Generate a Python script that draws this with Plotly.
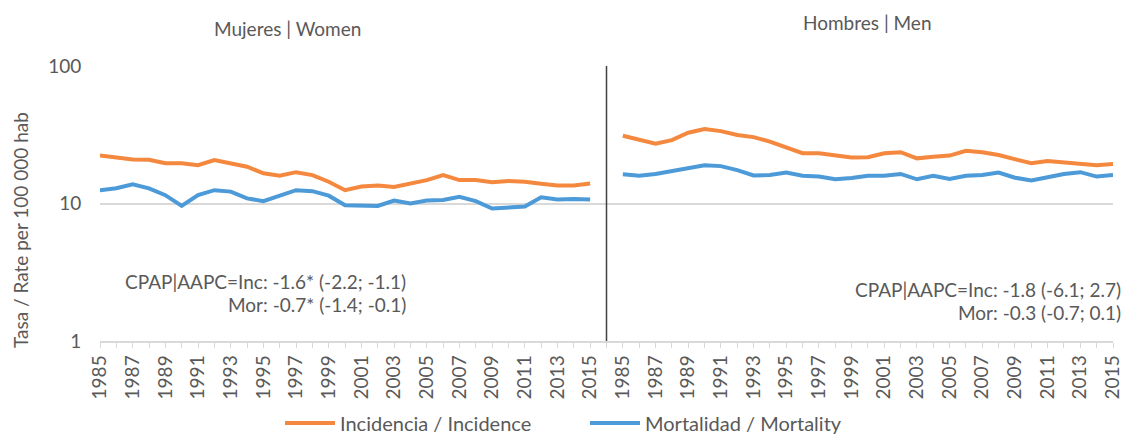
import plotly.graph_objects as go

years = list(range(1985, 2016))
women_inc = [22.3, 21.7, 20.9, 20.8, 19.6, 19.6, 19.0, 20.7, 19.6, 18.5, 16.6, 15.9, 16.9, 16.1, 14.4, 12.5,
             13.3, 13.5, 13.2, 13.9, 14.8, 16.1, 14.8, 14.8, 14.3, 14.6, 14.4, 13.9, 13.5, 13.5, 14.0]
women_mor = [12.5, 12.9, 13.8, 12.9, 11.5, 9.6, 11.5, 12.5, 12.2, 10.9, 10.4, 11.5, 12.5, 12.3, 11.4, 9.7,
             9.6, 9.6, 10.5, 10.0, 10.5, 10.6, 11.2, 10.4, 9.2, 9.3, 9.5, 11.1, 10.7, 10.8, 10.7]
men_inc = [31.1, 29.3, 27.2, 28.9, 32.7, 34.8, 33.6, 31.5, 30.4, 28.2, 25.6, 23.2, 23.2, 22.3, 21.6, 21.7,
           23.2, 23.6, 21.3, 21.9, 22.3, 24.2, 23.6, 22.5, 20.9, 19.6, 20.4, 19.9, 19.4, 19.0, 19.4]
men_mor = [16.3, 15.9, 16.4, 17.2, 18.3, 19.0, 18.7, 17.5, 16.0, 16.1, 16.8, 15.9, 15.7, 15.0, 15.3, 15.9,
           15.9, 16.4, 15.0, 15.9, 15.1, 15.9, 16.1, 16.8, 15.4, 14.7, 15.5, 16.4, 16.9, 15.7, 16.1]

panel_titles = ["Mujeres | Women", "Hombres | Men"]
series_names = ["Incidencia / Incidence", "Mortalidad / Mortality"]
y_title = "Tasa / Rate per 100 000 hab"
women_note = ["CPAP|AAPC=Inc: -1.6* (-2.2; -1.1)", "Mor: -0.7* (-1.4; -0.1)"]
men_note = ["CPAP|AAPC=Inc: -1.8 (-6.1; 2.7)", "Mor: -0.3 (-0.7; 0.1)"]

ORANGE = "#F4883E"
BLUE = "#4C9AD8"
GRAY = "#595959"
FONT = "Lato"

L, R, T, B = 100, 12, 66, 93
W, H = 1125, 434
PW, PH = W - L - R, H - T - B


def px(xp):
    return (xp - L) / PW


def py(yp):
    return (H - B - yp) / PH


n = len(years)
xw = list(range(n))
xm = [n + 1 + i for i in range(n)]
sep = n

fig = go.Figure()
fig.add_trace(go.Scatter(x=xw, y=women_inc, mode="lines", line=dict(color=ORANGE, width=4),
                         name=series_names[0], legendgroup="inc"))
fig.add_trace(go.Scatter(x=xm, y=men_inc, mode="lines", line=dict(color=ORANGE, width=4),
                         name=series_names[0], legendgroup="inc", showlegend=False))
fig.add_trace(go.Scatter(x=xw, y=women_mor, mode="lines", line=dict(color=BLUE, width=4),
                         name=series_names[1], legendgroup="mor"))
fig.add_trace(go.Scatter(x=xm, y=men_mor, mode="lines", line=dict(color=BLUE, width=4),
                         name=series_names[1], legendgroup="mor", showlegend=False))

tickvals = list(range(2 * n + 1))
ticktext = []
for v in tickvals:
    if v < n:
        ticktext.append(str(years[v]) if v % 2 == 0 else "")
    elif v == n:
        ticktext.append("")
    else:
        i = v - n - 1
        ticktext.append(str(years[i]) if i % 2 == 0 else "")

fig.add_shape(type="line", xref="x", yref="paper", x0=sep, x1=sep, y0=0, y1=1,
              line=dict(color="#404040", width=1.5))

fig.update_xaxes(range=[0, 2 * n], tickmode="array", tickvals=tickvals, ticktext=ticktext,
                 tickangle=-90, ticks="outside", ticklen=5, tickcolor="#d9d9d9",
                 showline=True, linecolor="#d9d9d9", linewidth=1.5, showgrid=False, zeroline=False,
                 tickfont=dict(family=FONT, size=19, color=GRAY))
fig.update_yaxes(type="log", range=[0, 2], tickvals=[1, 10, 100], ticktext=["1", "10", "100"],
                 showgrid=True, gridcolor="#d9d9d9", gridwidth=1.5, zeroline=False, showline=False,
                 ticks="outside", ticklen=14, tickcolor="rgba(0,0,0,0)",
                 tickfont=dict(family=FONT, size=19, color=GRAY))

f19 = dict(family=FONT, size=19, color=GRAY)


def note(text, x, y, xanchor="right", xref="paper"):
    return dict(text=text, xref=xref, yref="paper", x=x, y=y, xanchor=xanchor, yanchor="middle",
                showarrow=False, font=f19)


annotations = [
    dict(text=y_title, xref="paper", yref="paper", x=px(20), y=py(230), xanchor="center",
         yanchor="middle", textangle=-90, showarrow=False, font=f19),
    note(panel_titles[0], 11.5, py(28), xanchor="center", xref="x"),
    note(panel_titles[1], n + 1 + 15, py(22), xanchor="center", xref="x"),
    note(women_note[0], px(408), py(281)),
    note(women_note[1], px(408), py(304)),
    note(men_note[0], px(1123), py(289)),
    note(men_note[1], px(1123), py(312)),
]

fig.update_layout(
    width=W, height=H,
    margin=dict(l=L, r=R, t=T, b=B, autoexpand=False),
    paper_bgcolor="white", plot_bgcolor="white",
    showlegend=True,
    legend=dict(orientation="h", x=px(280), xanchor="left", y=py(423), yanchor="middle",
                font=dict(family=FONT, size=20, color=GRAY), itemwidth=50,
                entrywidth=240, entrywidthmode="pixels"),
    annotations=annotations,
)

fig.write_html("out.html", config={"displayModeBar": False},
               post_script="document.body.style.margin='0';")
